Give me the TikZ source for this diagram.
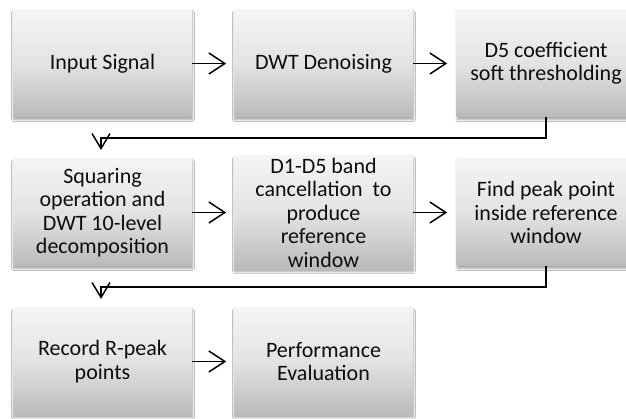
\documentclass[tikz,border=0pt]{standalone}
\usepackage{fontspec}
\setmainfont{Carlito}
\usetikzlibrary{arrows.meta,shadows.blur}
\tikzset{
  stagebox/.style={shape=rectangle, minimum width=179pt, minimum height=107pt,
    inner sep=2pt, align=center, top color=black!4, bottom color=black!27, middle color=black!11,
    blur shadow={shadow xshift=0.5pt, shadow yshift=-2.5pt, shadow blur steps=6, shadow opacity=35},
    font=\fontsize{22}{23.5}\selectfont, text=black!95},
  flow/.style={line width=1.5pt, -{Straight Barb[length=16pt,width=21pt,line width=1.5pt]}},
  back/.style={line width=1.5pt, -{Straight Barb[length=15pt,width=18pt,line width=1.5pt]}}
}
\begin{document}
\begin{tikzpicture}[x=1pt,y=-1pt]
\useasboundingbox[fill=white] (0,0) rectangle (626,419);
\node[stagebox] (b1) at (102.5,63.5) {Input Signal};
\node[stagebox] (b2) at (323.5,63.5) {DWT Denoising};
\node[stagebox] (b3) at (546,63.5) {D5 coefficient\\soft thresholding};
\node[stagebox] (b4) at (102.5,212.5) {Squaring\\operation and\\DWT 10-level\\decomposition};
\node[stagebox] (b5) at (323.5,212.5) {D1-D5 band\\cancellation\ \ to\\produce\\reference\\window};
\node[stagebox] (b6) at (546,212.5) {Find peak point\\inside reference\\window};
\node[stagebox] (b7) at (102.5,361.5) {Record R-peak\\points};
\node[stagebox] (b8) at (323.5,361.5) {Performance\\Evaluation};
\coordinate (t1) at (101,150);
\coordinate (t2) at (101,299);
\draw[flow] (b1.east) -- ++(34,0);
\draw[flow] (b2.east) -- ++(34,0);
\draw[flow] (b4.east) -- ++(34,0);
\draw[flow] (b5.east) -- ++(34,0);
\draw[flow] (b7.east) -- ++(34,0);
\draw[back] (b3.south) -- ++(0,21) -| (t1);
\draw[back] (b6.south) -- ++(0,21) -| (t2);
\end{tikzpicture}
\end{document}
